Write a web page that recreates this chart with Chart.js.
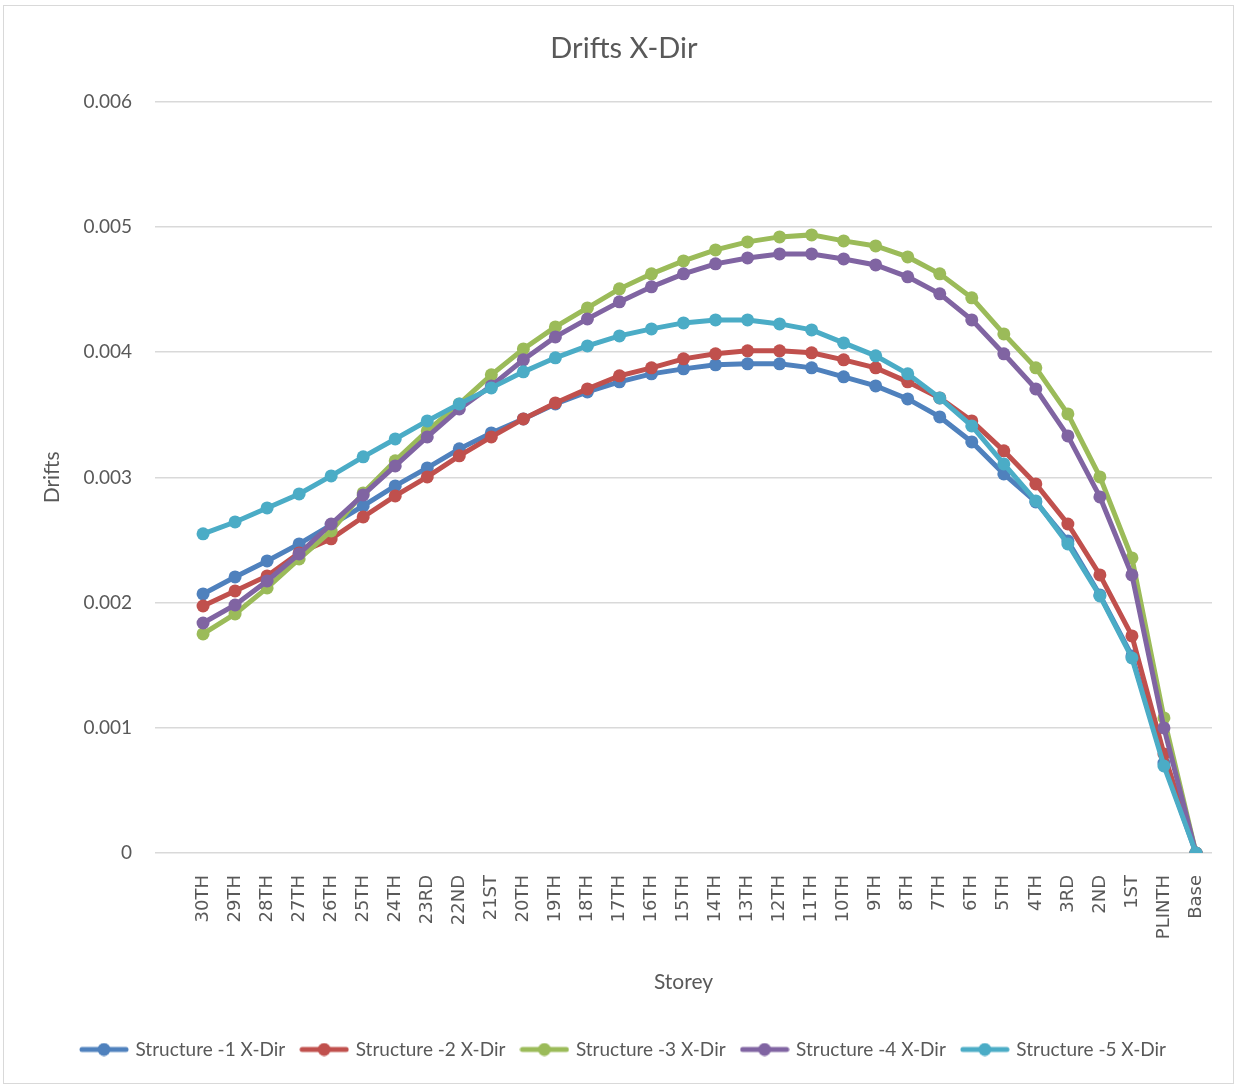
<!DOCTYPE html>
<html>
<head>
<meta charset="utf-8">
<script src="https://cdn.jsdelivr.net/npm/chart.js@4.4.1/dist/chart.umd.min.js"></script>
<style>
  html, body { margin: 0; padding: 0; background: #ffffff; }
  #wrap { position: relative; width: 1240px; height: 1086px; }
  #frame { position: absolute; left: 3px; top: 5px; width: 1229px; height: 1077px; border: 1px solid #d9d9d9; pointer-events: none; }
</style>
</head>
<body>
<div id="wrap">
  <canvas id="c" width="1240" height="1086"></canvas>
  <div id="frame"></div>
</div>
<script>
const categories = ['30TH','29TH','28TH','27TH','26TH','25TH','24TH','23RD','22ND','21ST','20TH','19TH','18TH','17TH','16TH','15TH','14TH','13TH','12TH','11TH','10TH','9TH','8TH','7TH','6TH','5TH','4TH','3RD','2ND','1ST','PLINTH','Base'];

const structure1 = [0.002069,0.002205,0.002333,0.002469,0.002620,0.002772,0.002932,0.003076,0.003228,0.003355,0.003467,0.003587,0.003683,0.003763,0.003827,0.003867,0.003899,0.003907,0.003907,0.003875,0.003803,0.003731,0.003627,0.003483,0.003283,0.003028,0.002804,0.002493,0.002061,0.001574,0.000719,0];
const structure2 = [0.001973,0.002093,0.002213,0.002397,0.002509,0.002684,0.002852,0.003004,0.003172,0.003323,0.003467,0.003595,0.003707,0.003811,0.003875,0.003947,0.003987,0.004011,0.004011,0.003995,0.003939,0.003875,0.003763,0.003635,0.003451,0.003212,0.002948,0.002628,0.002221,0.001734,0.000791,0];
const structure3 = [0.001750,0.001909,0.002117,0.002349,0.002572,0.002876,0.003132,0.003371,0.003587,0.003819,0.004026,0.004202,0.004354,0.004506,0.004626,0.004729,0.004817,0.004881,0.004921,0.004937,0.004889,0.004849,0.004761,0.004626,0.004434,0.004146,0.003875,0.003507,0.003004,0.002357,0.001079,0];
const structure4 = [0.001837,0.001981,0.002173,0.002389,0.002628,0.002860,0.003092,0.003323,0.003547,0.003731,0.003939,0.004122,0.004266,0.004402,0.004522,0.004626,0.004706,0.004753,0.004785,0.004785,0.004745,0.004697,0.004602,0.004466,0.004258,0.003987,0.003707,0.003331,0.002844,0.002221,0.000999,0];
const structure5 = [0.002549,0.002644,0.002756,0.002868,0.003012,0.003164,0.003307,0.003451,0.003587,0.003715,0.003843,0.003955,0.004050,0.004130,0.004186,0.004234,0.004258,0.004258,0.004226,0.004178,0.004074,0.003971,0.003827,0.003635,0.003411,0.003108,0.002812,0.002469,0.002053,0.001558,0.000695,0];

const seriesNames = ['Structure -1 X-Dir','Structure -2 X-Dir','Structure -3 X-Dir','Structure -4 X-Dir','Structure -5 X-Dir'];
const seriesColors = ['#4F81BD','#C0504D','#9BBB59','#8064A2','#4BACC6'];
const yTicks = [0, 0.001, 0.002, 0.003, 0.004, 0.005, 0.006];

const allSeries = [structure1, structure2, structure3, structure4, structure5];
// Reference axis has one empty leading slot before 30TH
const axisLabels = [''].concat(categories);

function legendIcon(color) {
  const cv = document.createElement('canvas');
  cv.width = 50; cv.height = 14;
  const g = cv.getContext('2d');
  g.strokeStyle = color; g.lineWidth = 5; g.lineCap = 'round';
  g.beginPath(); g.moveTo(3, 7); g.lineTo(47, 7); g.stroke();
  g.fillStyle = color;
  g.beginPath(); g.arc(25, 7, 6.5, 0, Math.PI * 2); g.fill();
  return cv;
}
const icons = seriesColors.map(legendIcon);

const datasets = allSeries.map((s, i) => ({
  label: seriesNames[i],
  data: [null].concat(s),
  borderColor: seriesColors[i],
  backgroundColor: seriesColors[i],
  pointBackgroundColor: seriesColors[i],
  pointBorderColor: seriesColors[i],
  borderWidth: 5,
  pointRadius: 6.5,
  pointBorderWidth: 0,
  tension: 0,
  order: allSeries.length - i,
  spanGaps: false
}));

const txt = '#595959';

new Chart(document.getElementById('c'), {
  type: 'line',
  data: { labels: axisLabels, datasets },
  options: {
    responsive: false,
    animation: false,
    devicePixelRatio: 1,
    layout: { padding: { left: 8, right: 0, top: 0, bottom: 17 } },
    plugins: {
      title: {
        display: true,
        text: 'Drifts X-Dir',
        color: txt,
        font: { family: 'Lato', size: 29, weight: 'normal' },
        padding: { top: 31, bottom: 36 }
      },
      legend: {
        display: true,
        position: 'bottom',
        labels: {
          color: txt,
          font: { family: 'Lato', size: 19 },
          usePointStyle: true,
          pointStyleWidth: 44,
          padding: 17,
          generateLabels: (chart) => seriesNames.map((n, i) => ({
            text: n,
            fillStyle: seriesColors[i],
            strokeStyle: seriesColors[i],
            lineWidth: 0,
            pointStyle: icons[i],
            datasetIndex: i,
            hidden: false,
            fontColor: txt
          }))
        }
      },
      tooltip: { enabled: false }
    },
    scales: {
      x: {
        type: 'category',
        offset: true,
        grid: { display: false, drawTicks: false },
        border: { display: false },
        ticks: {
          autoSkip: false,
          minRotation: 90,
          maxRotation: 90,
          padding: 22,
          color: txt,
          font: { family: 'DejaVu Sans', size: 18 }
        },
        title: {
          display: true,
          text: 'Storey',
          color: txt,
          font: { family: 'Lato', size: 21 },
          padding: { top: 0, bottom: 28 }
        },
        afterFit: (s) => { s.height = 170; }
      },
      y: {
        min: 0,
        max: 0.006,
        afterBuildTicks: (s) => { s.ticks = yTicks.map(v => ({ value: v })); },
        grid: { color: '#d9d9d9', lineWidth: 1.5, drawTicks: false },
        border: { display: false },
        ticks: {
          padding: 23,
          color: txt,
          font: { family: 'Lato', size: 19 },
          callback: (v) => v === 0 ? '0' : Number(v).toFixed(3)
        },
        title: {
          display: true,
          text: 'Drifts',
          color: txt,
          font: { family: 'Lato', size: 21 },
          padding: { top: 32, bottom: 0 }
        },
        afterFit: (s) => { s.width = 147; }
      },
      yRight: {
        position: 'right',
        display: true,
        grid: { display: false, drawTicks: false },
        border: { display: false },
        ticks: { display: false },
        afterFit: (s) => { s.width = 27; }
      }
    }
  }
});
</script>
</body>
</html>
